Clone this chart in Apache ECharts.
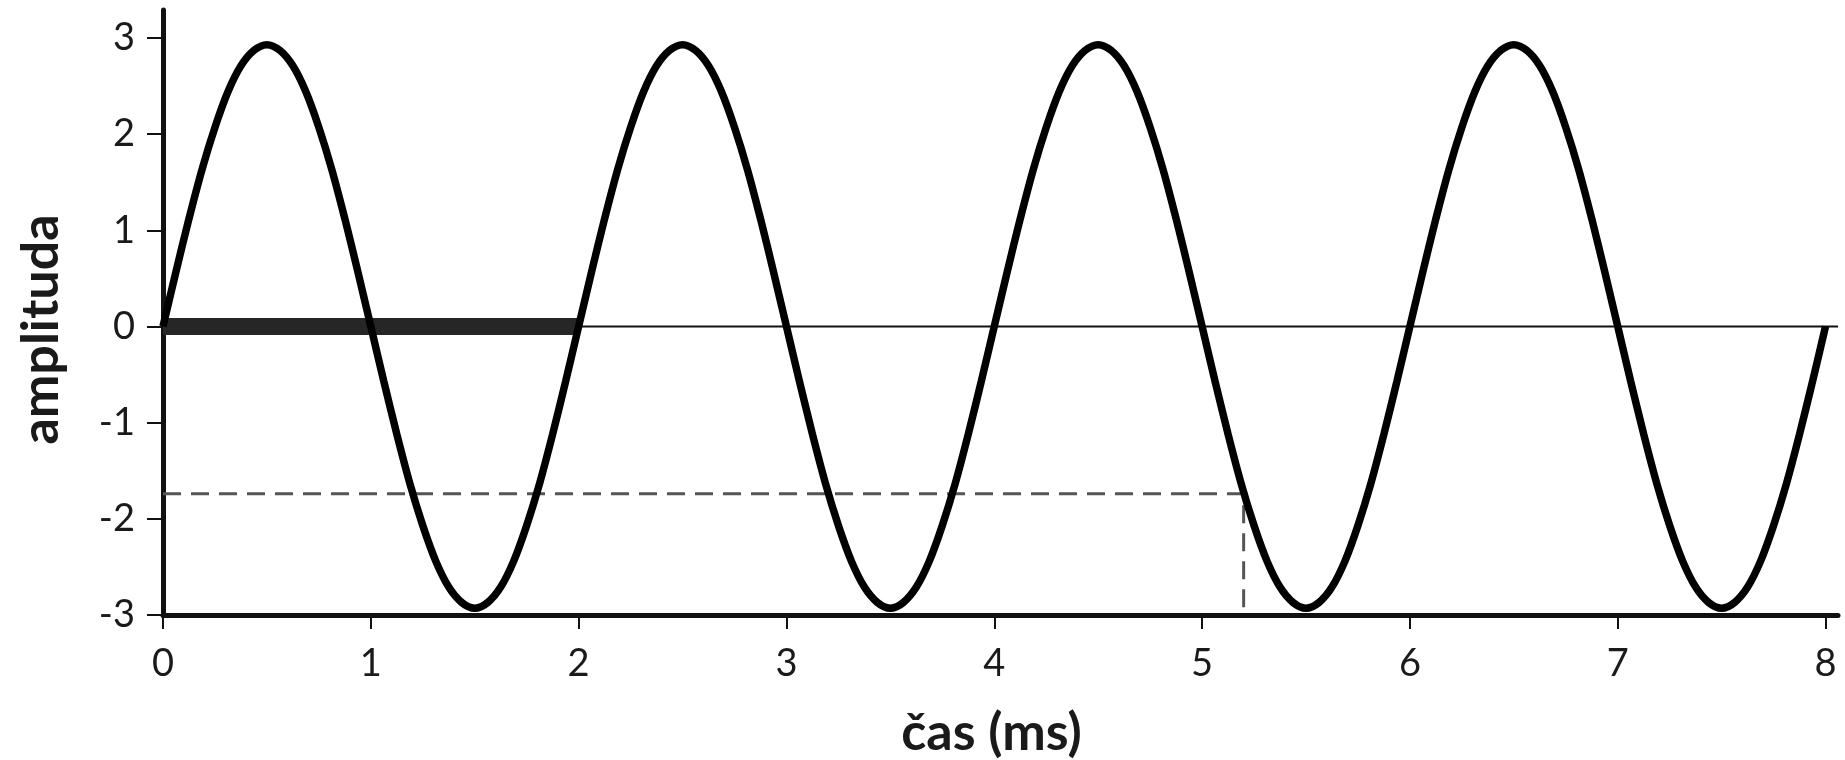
<!DOCTYPE html>
<html>
<head>
<meta charset="utf-8">
<script src="https://cdn.jsdelivr.net/npm/echarts@6/dist/echarts.min.js"></script>
<style>
html,body{margin:0;padding:0;background:#fff;}
#chart{width:1845px;height:760px;}
</style>
</head>
<body>
<div id="chart"></div>
<script>
// time (ms) samples
var times = [
  0,0.0625,0.125,0.1875,0.25,0.3125,0.375,0.4375,0.5,0.5625,0.625,0.6875,0.75,0.8125,0.875,0.9375,
  1,1.0625,1.125,1.1875,1.25,1.3125,1.375,1.4375,1.5,1.5625,1.625,1.6875,1.75,1.8125,1.875,1.9375,
  2,2.0625,2.125,2.1875,2.25,2.3125,2.375,2.4375,2.5,2.5625,2.625,2.6875,2.75,2.8125,2.875,2.9375,
  3,3.0625,3.125,3.1875,3.25,3.3125,3.375,3.4375,3.5,3.5625,3.625,3.6875,3.75,3.8125,3.875,3.9375,
  4,4.0625,4.125,4.1875,4.25,4.3125,4.375,4.4375,4.5,4.5625,4.625,4.6875,4.75,4.8125,4.875,4.9375,
  5,5.0625,5.125,5.1875,5.25,5.3125,5.375,5.4375,5.5,5.5625,5.625,5.6875,5.75,5.8125,5.875,5.9375,
  6,6.0625,6.125,6.1875,6.25,6.3125,6.375,6.4375,6.5,6.5625,6.625,6.6875,6.75,6.8125,6.875,6.9375,
  7,7.0625,7.125,7.1875,7.25,7.3125,7.375,7.4375,7.5,7.5625,7.625,7.6875,7.75,7.8125,7.875,7.9375,
  8];
// amplitude
var amplitude = [
  0,0.57,1.12,1.63,2.07,2.44,2.71,2.87,2.93,2.87,2.71,2.44,2.07,1.63,1.12,0.57,
  0,-0.57,-1.12,-1.63,-2.07,-2.44,-2.71,-2.87,-2.93,-2.87,-2.71,-2.44,-2.07,-1.63,-1.12,-0.57,
  0,0.57,1.12,1.63,2.07,2.44,2.71,2.87,2.93,2.87,2.71,2.44,2.07,1.63,1.12,0.57,
  0,-0.57,-1.12,-1.63,-2.07,-2.44,-2.71,-2.87,-2.93,-2.87,-2.71,-2.44,-2.07,-1.63,-1.12,-0.57,
  0,0.57,1.12,1.63,2.07,2.44,2.71,2.87,2.93,2.87,2.71,2.44,2.07,1.63,1.12,0.57,
  0,-0.57,-1.12,-1.63,-2.07,-2.44,-2.71,-2.87,-2.93,-2.87,-2.71,-2.44,-2.07,-1.63,-1.12,-0.57,
  0,0.57,1.12,1.63,2.07,2.44,2.71,2.87,2.93,2.87,2.71,2.44,2.07,1.63,1.12,0.57,
  0,-0.57,-1.12,-1.63,-2.07,-2.44,-2.71,-2.87,-2.93,-2.87,-2.71,-2.44,-2.07,-1.63,-1.12,-0.57,
  0];
// period marker (thick bar on zero line)
var periodBar = [[0,0],[2,0]];
// zero reference line
var zeroLine = [[0,0],[8.06,0]];
// dashed reading guide
var guide = [[0,-1.74],[5.2,-1.74],[5.2,-3]];
var xTicks = [0,1,2,3,4,5,6,7,8];
var yTicks = [-3,-2,-1,0,1,2,3];

var FONT = 'Lato, "Open Sans", sans-serif';
var chart = echarts.init(document.getElementById('chart'), null, {renderer:'canvas'});
var option = {
  animation:false,
  backgroundColor:'#ffffff',
  grid:{left:163, right:7, top:10, bottom:145, containLabel:false, outerBoundsMode:'none'},
  xAxis:{
    type:'value', min:0, max:8.06,
    name:'čas (ms)', nameLocation:'middle', nameGap:92,
    nameTextStyle:{fontFamily:FONT, fontSize:52, fontWeight:'bold', color:'#1a1a1a', padding:[0,18,0,0]},
    axisLine:{onZero:false, lineStyle:{color:'#111', width:5}},
    axisTick:{customValues:xTicks, length:14, lineStyle:{color:'#111', width:2}},
    axisLabel:{customValues:xTicks, margin:30, fontFamily:FONT, fontSize:38, color:'#1a1a1a'},
    splitLine:{show:false}
  },
  yAxis:{
    type:'value', min:-3, max:3.29,
    name:'amplituda', nameLocation:'middle', nameGap:96,
    nameTextStyle:{fontFamily:FONT, fontSize:52, fontWeight:'bold', color:'#1a1a1a', padding:[0,34,0,0]},
    axisLine:{onZero:false, lineStyle:{color:'#111', width:5}},
    axisTick:{customValues:yTicks, length:16, lineStyle:{color:'#111', width:2}},
    axisLabel:{customValues:yTicks, margin:28, fontFamily:FONT, fontSize:38, color:'#1a1a1a'},
    splitLine:{show:false}
  },
  series:[
    {type:'line', data:zeroLine, symbol:'none', lineStyle:{color:'#111', width:2}, z:2},
    {type:'line', data:periodBar, symbol:'none', lineStyle:{color:'#262626', width:17, cap:'butt'}, z:3},
    {type:'line', data:guide, symbol:'none', lineStyle:{color:'#555', width:3, type:[18,10]}, z:3},
    {type:'line', data:times.map(function(t,i){return [t, amplitude[i]];}), symbol:'none', smooth:0.3,
     lineStyle:{color:'#000', width:7.5}, z:4}
  ]
};
chart.setOption(option);
</script>
</body>
</html>
